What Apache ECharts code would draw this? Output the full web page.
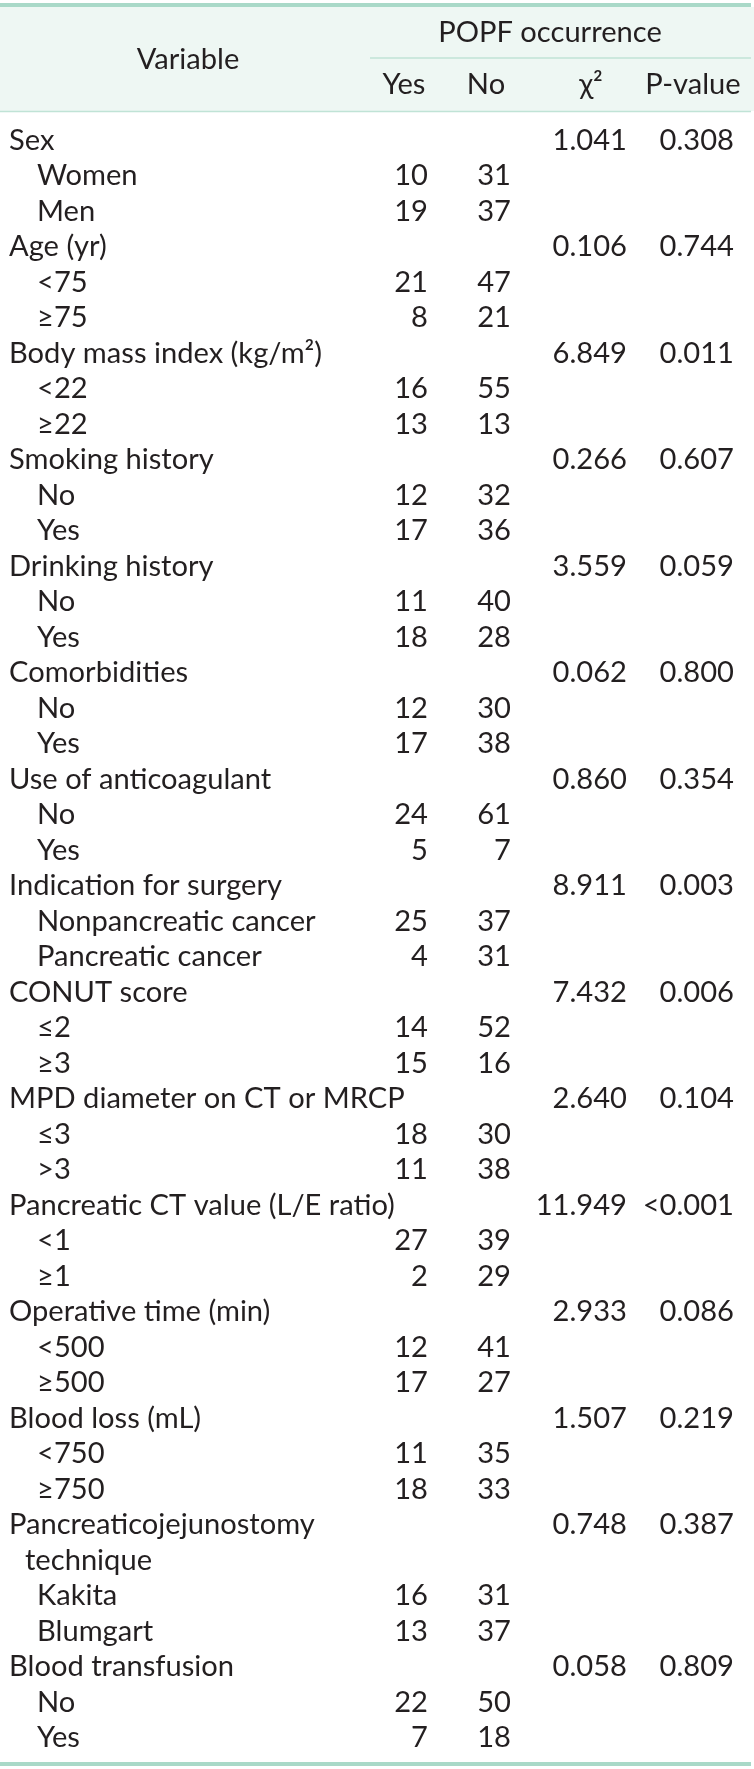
<!DOCTYPE html>
<html><head><meta charset="utf-8">
<script src="https://cdn.jsdelivr.net/npm/echarts@6/dist/echarts.min.js"></script>
<style>html,body{margin:0;padding:0;background:#fff;} #chart{width:754px;height:1769px;}</style>
</head><body><div id="chart"></div>
<script>
// ---------------- data ----------------
const variables = ['Sex', 'Age (yr)', 'Body mass index (kg/m²)', 'Smoking history', 'Drinking history',
  'Comorbidities', 'Use of anticoagulant', 'Indication for surgery', 'CONUT score',
  'MPD diameter on CT or MRCP', 'Pancreatic CT value (L/E ratio)', 'Operative time (min)',
  'Blood loss (mL)', 'Pancreaticojejunostomy\ntechnique', 'Blood transfusion'];
const levels = [['Women', 'Men'], ['<75', '≥75'], ['<22', '≥22'], ['No', 'Yes'], ['No', 'Yes'],
  ['No', 'Yes'], ['No', 'Yes'], ['Nonpancreatic cancer', 'Pancreatic cancer'], ['≤2', '≥3'],
  ['≤3', '>3'], ['<1', '≥1'], ['<500', '≥500'], ['<750', '≥750'], ['Kakita', 'Blumgart'], ['No', 'Yes']];
const popfYes = [[10, 19], [21, 8], [16, 13], [12, 17], [11, 18], [12, 17], [24, 5], [25, 4], [14, 15],
  [18, 11], [27, 2], [12, 17], [11, 18], [16, 13], [22, 7]];
const popfNo = [[31, 37], [47, 21], [55, 13], [32, 36], [40, 28], [30, 38], [61, 7], [37, 31], [52, 16],
  [30, 38], [39, 29], [41, 27], [35, 33], [31, 37], [50, 18]];
const chiSquare = ['1.041', '0.106', '6.849', '0.266', '3.559', '0.062', '0.860', '8.911', '7.432',
  '2.640', '11.949', '2.933', '1.507', '0.748', '0.058'];
const pValues = ['0.308', '0.744', '0.011', '0.607', '0.059', '0.800', '0.354', '0.003', '0.006',
  '0.104', '<0.001', '0.086', '0.219', '0.387', '0.809'];
const headerGroup = 'POPF occurrence';
const headerFirst = 'Variable';
const headerCols = ['Yes', 'No', 'χ²', 'P-value'];

// ---------------- layout ----------------
const W = 754, H = 1769;
const LAYOUT = {
  labelX: 9, indentX: 37, wrapX: 25,
  yesRight: 428, noRight: 511, chiRight: 627, pRight: 734,
  headCenters: [404, 486, 591, 693], groupCenter: 550, firstCenter: 188,
  groupY: 33, subY: 85, firstY: 60,
  row0: 140.5, pitch: 35.5
};
const COLORS = { text: '#231f20', thick: '#a9d9c8', thin: '#c0e3d6', head: '#eef7f3' };
const FONT = 'Lato';
const mctx = document.createElement('canvas').getContext('2d');
mctx.font = '20px ' + FONT;
const FS = 20 * 386 / mctx.measureText('Pancreatic CT value (L/E ratio)').width;

// build cells
const cells = [];
cells.push({ x: LAYOUT.firstCenter, y: LAYOUT.firstY, t: headerFirst, a: 'center' });
cells.push({ x: LAYOUT.groupCenter, y: LAYOUT.groupY, t: headerGroup, a: 'center' });
headerCols.forEach((h, i) => cells.push({ x: LAYOUT.headCenters[i], y: LAYOUT.subY, t: h, a: 'center' }));
let r = 0;
const rowY = k => LAYOUT.row0 + k * LAYOUT.pitch;
variables.forEach((v, i) => {
  const parts = v.split('\n');
  cells.push({ x: LAYOUT.labelX, y: rowY(r), t: parts[0], a: 'left' });
  cells.push({ x: LAYOUT.chiRight, y: rowY(r), t: chiSquare[i], a: 'right' });
  cells.push({ x: LAYOUT.pRight, y: rowY(r), t: pValues[i], a: 'right' });
  r++;
  for (let k = 1; k < parts.length; k++) { cells.push({ x: LAYOUT.wrapX, y: rowY(r), t: parts[k], a: 'left' }); r++; }
  levels[i].forEach((lv, j) => {
    cells.push({ x: LAYOUT.indentX, y: rowY(r), t: lv, a: 'left' });
    cells.push({ x: LAYOUT.yesRight, y: rowY(r), t: String(popfYes[i][j]), a: 'right' });
    cells.push({ x: LAYOUT.noRight, y: rowY(r), t: String(popfNo[i][j]), a: 'right' });
    r++;
  });
});
const rules = [
  { kind: 'rect', x1: 0, x2: 754, y1: 7, y2: 111 },
  { kind: 'line', x1: 0, x2: 751, y: 5, w: 4, c: COLORS.thick },
  { kind: 'line', x1: 370, x2: 751, y: 58, w: 1.5, c: COLORS.thin },
  { kind: 'line', x1: 0, x2: 751, y: 111.5, w: 1.5, c: COLORS.thin },
  { kind: 'line', x1: 0, x2: 751, y: 1764, w: 4, c: COLORS.thick }
];

const chart = echarts.init(document.getElementById('chart'), null, { renderer: 'canvas' });
chart.setOption({
  backgroundColor: '#ffffff',
  animation: false,
  grid: { left: 0, right: 0, top: 0, bottom: 0 },
  xAxis: { type: 'value', min: 0, max: W, show: false },
  yAxis: { type: 'value', min: 0, max: H, inverse: true, show: false },
  series: [
    {
      type: 'custom', silent: true, z: 1,
      data: rules.map((d, i) => [i]),
      renderItem(params, api) {
        const d = rules[params.dataIndex];
        if (d.kind === 'rect') {
          const p1 = api.coord([d.x1, d.y1]), p2 = api.coord([d.x2, d.y2]);
          return { type: 'rect', shape: { x: p1[0], y: p1[1], width: p2[0] - p1[0], height: p2[1] - p1[1] }, style: { fill: COLORS.head } };
        }
        const p1 = api.coord([d.x1, d.y]), p2 = api.coord([d.x2, d.y]);
        return { type: 'line', shape: { x1: p1[0], y1: p1[1], x2: p2[0], y2: p2[1] }, style: { stroke: d.c, lineWidth: d.w } };
      }
    },
    {
      type: 'custom', silent: true, z: 2,
      data: cells.map(c => [c.x, c.y]),
      renderItem(params, api) {
        const c = cells[params.dataIndex];
        const p = api.coord([api.value(0), api.value(1)]);
        return { type: 'text', x: p[0], y: p[1], style: { text: c.t, align: c.a, verticalAlign: 'middle', fontSize: FS, fontFamily: FONT, fill: COLORS.text } };
      }
    }
  ]
});
</script></body></html>
